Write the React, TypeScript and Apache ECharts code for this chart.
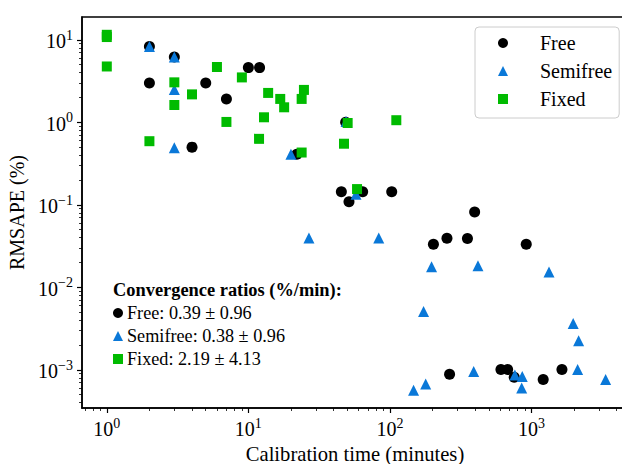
import React, { useEffect, useRef } from 'react';
import * as echarts from 'echarts';

const FONT = '"Liberation Serif", "Times New Roman", serif';

// Free (circles)
const freeX = [2, 2, 3, 4, 5, 7, 10, 12, 22, 48.7, 45.4, 51.4, 64.2, 103, 203, 253, 353, 397, 919, 264, 609, 679, 756, 1211, 1642];
const freeY = [8.3, 3.0, 6.2, 0.5, 3.0, 1.92, 4.6, 4.6, 0.41, 1.0, 0.144, 0.109, 0.144, 0.144, 0.0332, 0.0393, 0.039, 0.0817, 0.0332, 0.00088, 0.00101, 0.00101, 0.00081, 0.00076, 0.00101];

// Semifree (triangles)
const semiX = [2, 3, 3, 3, 20, 49, 57.6, 26.8, 83.4, 197, 419, 1330, 173, 1973, 2154, 391, 764, 861, 853, 2120, 3342, 179, 147];
const semiY = [8.3, 6.2, 2.5, 0.49, 0.41, 1.02, 0.134, 0.0395, 0.0395, 0.0177, 0.0182, 0.0153, 0.0051, 0.00365, 0.00225, 0.00095, 0.000866, 0.000826, 0.000603, 0.00101, 0.00076, 0.000673, 0.000565];

// Fixed (squares)
const fixedX = [1, 1, 1, 2, 3, 3, 4, 6, 7, 9, 11.9, 12.9, 13.8, 16.8, 17.9, 23.8, 24.7, 23.8, 47.4, 50.3, 58.6, 111];
const fixedY = [10.8, 11.5, 4.75, 0.59, 3.05, 1.62, 2.18, 4.68, 1.01, 3.5, 0.63, 1.15, 2.27, 1.92, 1.52, 1.92, 2.47, 0.43, 0.55, 0.98, 0.155, 1.06];

const xTicks = [1, 10, 100, 1000];
const yTicks = [0.001, 0.01, 0.1, 1, 10];
const seriesNames = ['Free', 'Semifree', 'Fixed'];
const ratioTitle = 'Convergence ratios (%/min):';
const ratioLines = ['Free: 0.39 \u00b1 0.96', 'Semifree: 0.38 \u00b1 0.96', 'Fixed: 2.19 \u00b1 4.13'];

const BLACK = '#000000';
const BLUE = '#0a78d8';
const GREEN = '#00bb00';

const zip = (xs: number[], ys: number[]) => xs.map((x, i) => [x, ys[i]]);

const powLabel = (v: number) => {
  const e = Math.round(Math.log10(v));
  const s = e < 0 ? '\u2212' + Math.abs(e) : String(e);
  return '{b|10}{s|' + s + '}';
};

const rich = {
  b: { fontFamily: FONT, fontSize: 20, color: '#000', verticalAlign: 'bottom' },
  s: { fontFamily: FONT, fontSize: 14, color: '#000', verticalAlign: 'bottom', padding: [0, 0, 9, 0] },
};

export default function App() {
  const ref = useRef<HTMLDivElement>(null);
  useEffect(() => {
    if (!ref.current) return;
    const chart = echarts.init(ref.current, null, { renderer: 'svg' });
    const option: any = {
      animation: false,
      backgroundColor: '#ffffff',
      grid: {
        left: 82, top: 17, width: 546, height: 391,
        outerBoundsMode: 'none', containLabel: false,
        show: true, borderColor: '#000', borderWidth: 1.5, backgroundColor: 'transparent',
      },
      xAxis: {
        type: 'log', logBase: 10, min: 0.668, max: 4810,
        name: 'Calibration time (minutes)', nameLocation: 'middle', nameGap: 33,
        nameTextStyle: { fontFamily: FONT, fontSize: 20.6, color: '#000', lineHeight: 21 },
        axisLine: { show: true, onZero: false, lineStyle: { color: '#000', width: 1.5 } },
        axisTick: { show: true, inside: false, length: 5, customValues: xTicks, lineStyle: { color: '#000', width: 1.2 } },
        minorTick: { show: true, splitNumber: 9, length: 3, lineStyle: { color: '#000', width: 0.8 } },
        axisLabel: { customValues: xTicks, margin: 8, formatter: powLabel, rich },
        splitLine: { show: false },
        minorSplitLine: { show: false },
      },
      yAxis: {
        type: 'log', logBase: 10, min: 0.000344, max: 18.9,
        name: 'RMSAPE (%)', nameLocation: 'middle', nameGap: 52, nameRotate: 90,
        nameTextStyle: { fontFamily: FONT, fontSize: 20, color: '#000' },
        axisLine: { show: true, onZero: false, lineStyle: { color: '#000', width: 1.5 } },
        axisTick: { show: true, inside: false, length: 5, customValues: yTicks, lineStyle: { color: '#000', width: 1.2 } },
        minorTick: { show: true, splitNumber: 9, length: 3, lineStyle: { color: '#000', width: 0.8 } },
        axisLabel: { customValues: yTicks, margin: 9, formatter: powLabel, rich },
        splitLine: { show: false },
        minorSplitLine: { show: false },
      },
      legend: {
        orient: 'vertical', left: 475, top: 27,
        padding: [5, 7, 8, 23], itemWidth: 10, itemHeight: 10, itemGap: 6,
        borderColor: '#cccccc', borderWidth: 1, borderRadius: 4, backgroundColor: 'rgba(255,255,255,0.8)',
        textStyle: { fontFamily: FONT, fontSize: 20, color: '#000', lineHeight: 22, padding: [0, 0, 0, 27] },
        data: seriesNames,
      },
      series: [
        { type: 'scatter', name: seriesNames[0], data: zip(freeX, freeY), symbol: 'circle', symbolSize: 11, itemStyle: { color: BLACK, opacity: 1 } },
        { type: 'scatter', name: seriesNames[1], data: zip(semiX, semiY), symbol: 'triangle', symbolSize: 11, itemStyle: { color: BLUE, opacity: 1 } },
        { type: 'scatter', name: seriesNames[2], data: zip(fixedX, fixedY), symbol: 'rect', symbolSize: 10, itemStyle: { color: GREEN, opacity: 1 } },
      ],
      graphic: [
        { type: 'text', x: 113, y: 290, style: { text: ratioTitle, font: 'bold 18.4px ' + FONT, fill: '#000', verticalAlign: 'middle' } },
        { type: 'circle', shape: { cx: 118, cy: 313, r: 5 }, style: { fill: BLACK } },
        { type: 'polygon', shape: { points: [[118, 331], [113, 341], [123, 341]] }, style: { fill: BLUE } },
        { type: 'rect', shape: { x: 113, y: 354, width: 10, height: 10 }, style: { fill: GREEN } },
        { type: 'text', x: 127, y: 313, style: { text: ratioLines[0], font: '18.2px ' + FONT, fill: '#000', verticalAlign: 'middle' } },
        { type: 'text', x: 127, y: 336, style: { text: ratioLines[1], font: '18.2px ' + FONT, fill: '#000', verticalAlign: 'middle' } },
        { type: 'text', x: 127, y: 359, style: { text: ratioLines[2], font: '18.2px ' + FONT, fill: '#000', verticalAlign: 'middle' } },
      ],
    };
    chart.setOption(option);
    return () => chart.dispose();
  }, []);
  return <div ref={ref} style={{ width: 622, height: 464, position: 'absolute', left: 0, top: 0 }} />;
}
